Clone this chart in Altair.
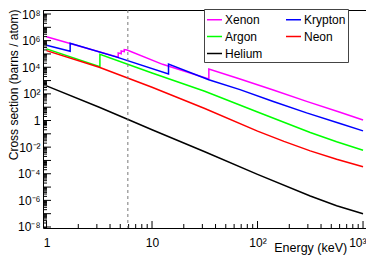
import altair as alt
import pandas as pd

# ---- data (energy in keV, cross section in barns/atom)
gases = ["Xenon", "Krypton", "Argon", "Neon", "Helium"]
colors = ["#ff00ff", "#0000ff", "#00ff00", "#ff0000", "#000000"]
legend_order = ["Xenon", "Argon", "Helium", "Krypton", "Neon"]

xe_E = [1, 4.782, 4.782, 5.104, 5.104, 5.453, 5.453, 5.8, 12.6, 34.56, 34.56, 68.2, 141, 292, 605, 1000]
xe_S = [1.95e6, 5.6e4, 1.2e5, 1.05e5, 1.66e5, 1.48e5, 2.14e5, 2.0e5, 1.66e4, 1.32e3, 7.4e3, 1.32e3, 195, 27.5, 4.17, 1.10]

kr_E = [1, 1.675, 1.675, 4.56, 14.33, 14.33, 34.5, 68.2, 141, 292, 605, 1000]
kr_S = [4.47e5, 1.58e5, 6.3e5, 6.0e4, 3.16e3, 1.74e4, 1.15e3, 209, 26.9, 3.72, 0.60, 0.166]

ar_E = [1, 3.206, 3.206, 10, 31.6, 100, 316, 562, 1000]
ar_S = [2.4e5, 1.1e4, 9.3e4, 3.7e3, 158, 4.37, 0.126, 0.025, 5.75e-3]

ne_E = [1, 3.16, 10, 31.6, 100, 178, 316, 562, 1000]
ne_S = [1.78e5, 1.0e4, 316, 7.9, 0.158, 0.0269, 5.25e-3, 1.23e-3, 3.4e-4]

he_E = [1, 3.16, 5.93, 10, 31.6, 100, 316, 562, 1000]
he_S = [398, 10.0, 1.2, 0.20, 4.47e-3, 8.9e-5, 2.14e-6, 3.98e-7, 9.8e-8]

fe55_line = [5.9]

y_labels = [10.0 ** k for k in range(-8, 9, 2)]
y_decades = [10.0 ** k for k in range(-8, 9)]
y_minor = [m * 10.0 ** k for k in range(-9, 9) for m in range(2, 10)]
x_decades = [1, 10, 100, 1000]
x_minor = [m * 10.0 ** k for k in range(0, 3) for m in range(2, 10)]

# ---- tables
rows = []
for g, E, S in zip(gases, [xe_E, kr_E, ar_E, ne_E, he_E], [xe_S, kr_S, ar_S, ne_S, he_S]):
    for i, (e, s) in enumerate(zip(E, S)):
        rows.append({"gas": g, "E": e, "S": s, "i": i})
df = pd.DataFrame(rows)

W, H = 323, 218
FONT = "Liberation Sans"
xs = alt.Scale(type="log", domain=[0.926, 1067], nice=False)
ys = alt.Scale(type="log", domain=[8.41e-9, 2.0e8], nice=False)

sup = "['⁰','¹','²','³','⁴','⁵','⁶','⁷','⁸','⁹'][abs(round(log(datum.value)/LN10))]"
lab_expr = ("datum.value == 1 ? '1' : datum.value == 10 ? '10' : '10' + "
            "(datum.value < 1 ? '⁻' : '') + " + sup)

lines = alt.Chart(df).mark_line(strokeWidth=1.5, clip=True).encode(
    x=alt.X("E:Q", scale=xs, axis=alt.Axis(
        values=x_decades, labelExpr=lab_expr, ticks=False, tickSize=0, domain=False,
        grid=False, labelFont=FONT, labelFontSize=12, labelPadding=9, labelColor="black",
        labelAlign={"condition": {"test": "datum.value >= 1000", "value": "right"}, "value": "center"},
        labelOffset={"condition": {"test": "datum.value >= 1000", "value": 3}, "value": 0},
        title="Energy (keV)", titleFont=FONT, titleFontSize=12.5, titleFontWeight="normal",
        titleAlign="right", titleX=303.7, titleY=19, titleBaseline="middle",
        titleColor="black", labelFlush=False, labelOverlap=False)),
    y=alt.Y("S:Q", scale=ys, axis=alt.Axis(
        values=y_labels, labelExpr=lab_expr, ticks=False, tickSize=0, domain=False,
        grid=False, labelFont=FONT, labelFontSize=12, labelPadding=3, labelColor="black",
        title="Cross section (barns / atom)", titleFont=FONT, titleFontSize=12,
        titleFontWeight="normal", titleAngle=-90, titleAlign="right", titleX=-29.5, titleY=-1,
        titleBaseline="middle", titleColor="black", labelFlush=False, labelOverlap=False)),
    color=alt.Color("gas:N", scale=alt.Scale(domain=legend_order,
                                             range=[colors[gases.index(g)] for g in legend_order]),
                    legend=alt.Legend(
        orient="none", legendX=161, legendY=-1, columns=2, symbolType="stroke",
        symbolSize=225, symbolStrokeWidth=1.5, labelFont=FONT, labelFontSize=12,
        labelColor="black", labelOffset=2, strokeColor="#444444", fillColor="white",
        padding=2, rowPadding=2, columnPadding=20, title=None, cornerRadius=0)),
    order=alt.Order("i:Q"),
)

dash = alt.Chart(pd.DataFrame({"E": fe55_line})).mark_rule(
    color="#777777", strokeDash=[3, 3], strokeWidth=1).encode(
    x=alt.X("E:Q", scale=xs))

ytk_major = alt.Chart(pd.DataFrame({"S": y_decades})).mark_rule(
    color="black", strokeWidth=1, clip=True).encode(
    y=alt.Y("S:Q", scale=ys), x=alt.value(0), x2=alt.value(8))
ytk_minor = alt.Chart(pd.DataFrame({"S": y_minor})).mark_rule(
    color="black", strokeWidth=1, clip=True).encode(
    y=alt.Y("S:Q", scale=ys), x=alt.value(0), x2=alt.value(4))
xtk_major = alt.Chart(pd.DataFrame({"E": x_decades})).mark_rule(color="black", strokeWidth=1).encode(
    x=alt.X("E:Q", scale=xs), y=alt.value(H), y2=alt.value(H - 7))
xtk_minor = alt.Chart(pd.DataFrame({"E": x_minor})).mark_rule(color="black", strokeWidth=1).encode(
    x=alt.X("E:Q", scale=xs), y=alt.value(H), y2=alt.value(H - 4))

chart = alt.layer(lines, ytk_minor, ytk_major, xtk_minor, xtk_major, dash).properties(
    width=W, height=H,
    autosize=alt.AutoSizeParams(type="none"),
    padding={"left": 35, "top": 2, "right": 0, "bottom": 30},
    background="white",
).configure_view(stroke="black", strokeWidth=1)

chart.save("out.html", embed_options={"renderer": "svg", "actions": False})
